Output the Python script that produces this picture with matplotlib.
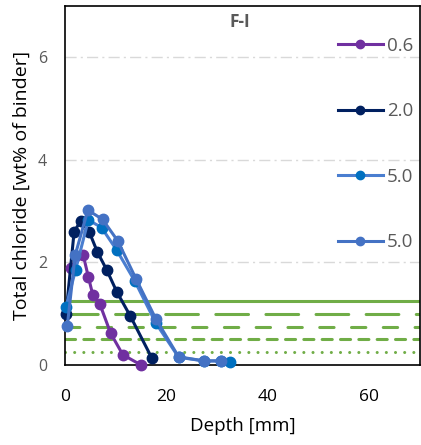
import matplotlib
matplotlib.use("Agg")
import matplotlib.pyplot as plt

plt.rcParams['font.family'] = ['Open Sans', 'DejaVu Sans']

# Chloride profiles: depth [mm] vs total chloride [wt% of binder]
depth_06 = [1.1, 3.6, 4.6, 5.5, 6.9, 9.0, 11.4, 15.0]
cl_06 = [1.89, 2.14, 1.72, 1.36, 1.18, 0.62, 0.20, 0.0]

depth_20 = [0.2, 1.8, 3.1, 4.8, 6.4, 8.2, 10.2, 12.9, 17.1]
cl_20 = [1.00, 2.60, 2.81, 2.59, 2.20, 1.86, 1.43, 0.95, 0.14]

depth_50a = [0.2, 2.1, 4.6, 7.2, 10.2, 13.8, 17.9, 22.4, 27.4, 30.7, 32.6]
cl_50a = [1.14, 1.86, 2.83, 2.68, 2.24, 1.63, 0.82, 0.15, 0.08, 0.08, 0.06]

depth_50b = [0.45, 2.0, 4.5, 7.4, 10.4, 14.0, 17.9, 22.4, 27.4, 30.7]
cl_50b = [0.76, 2.14, 3.02, 2.84, 2.42, 1.68, 0.90, 0.16, 0.08, 0.08]

series_labels = ["0.6", "2.0", "5.0", "5.0"]

# Threshold levels
thresholds = [1.25, 1.0, 0.75, 0.5, 0.25]

x_ticks = [0, 20, 40, 60]
y_ticks = [0, 2, 4, 6]

fig = plt.figure(figsize=(4.21, 4.45), dpi=100)
ax = fig.add_axes([65 / 421, 80 / 445, 355 / 421, 359 / 445])

ax.set_xlim(0, 70)
ax.set_ylim(0, 7)

# horizontal grid
for yv in [2, 4, 6]:
    ax.axhline(yv, color='#D9D9D9', lw=1.0, dashes=(8, 3, 1.5, 3), zorder=0)

green = '#70AD47'
glw = 2.2
dash_styles = [None, (10.7, 5.7), (4.7, 5.7), (3.3, 2.7), (0.01, 2.99)]
for t, ds in zip(thresholds, dash_styles):
    if ds is None:
        ax.axhline(t, color=green, lw=glw, zorder=1, solid_capstyle='butt')
    else:
        ax.axhline(t, color=green, lw=glw, zorder=1, dashes=ds,
                   dash_capstyle='round')

lw = 2.2
ms = 7.5
ax.plot(depth_06, cl_06, '-o', color='#7030A0', lw=lw, ms=ms, label=series_labels[0], zorder=3, clip_on=False)
ax.plot(depth_20, cl_20, '-o', color='#002060', lw=lw, ms=ms, label=series_labels[1], zorder=3, clip_on=False)
ax.plot(depth_50a, cl_50a, '-o', color='#4A7ED0', mfc='#0070C0', mec='#0070C0', lw=lw, ms=ms,
        label=series_labels[2], zorder=3, clip_on=False)
ax.plot(depth_50b, cl_50b, '-o', color='#4472C4', lw=lw, ms=ms, label=series_labels[3], zorder=3, clip_on=False)

leg = ax.legend(loc='upper left', frameon=False, fontsize=13.5, labelspacing=2.53,
                handlelength=2.4, handletextpad=0.2, borderaxespad=0.0, borderpad=0.0,
                bbox_to_anchor=(0.769, 0.914), markerscale=0.8)
for txt in leg.get_texts():
    txt.set_color('#595959')

ax.text(34.5, 6.68, "F-I", fontsize=12.5, fontweight='bold', color='#595959',
        ha='center', va='center')

ax.set_xticks(x_ticks)
ax.set_yticks(y_ticks)
ax.tick_params(axis='both', length=0)
ax.tick_params(axis='x', pad=17, labelcolor='black', labelsize=12.5)
ax.tick_params(axis='y', pad=13, labelcolor='#595959', labelsize=11.5)

for s in ax.spines.values():
    s.set_color('black')
    s.set_linewidth(1.2)

ax.set_xlabel("Depth [mm]", fontsize=13.5, labelpad=9)
ax.set_ylabel("Total chloride [wt% of binder]", fontsize=14, labelpad=5)

fig.savefig("out.png", dpi=100)
